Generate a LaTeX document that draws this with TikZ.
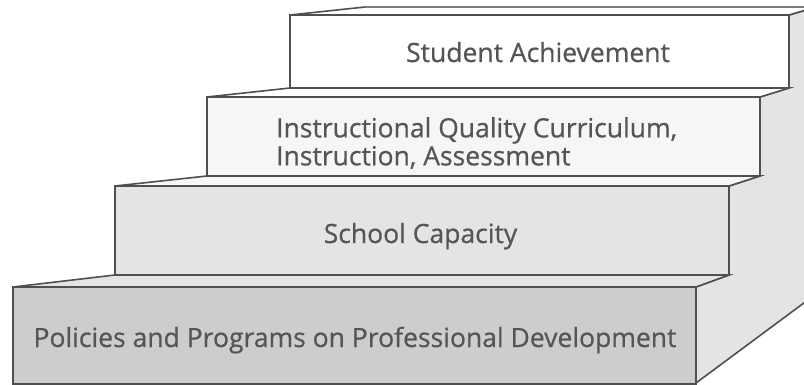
\documentclass[tikz,border=0pt]{standalone}
\usepackage{fontspec}
\setmainfont{Open Sans}
\newfontfamily\lblfont[FakeBold=0.6]{Open Sans}
\definecolor{edge}{HTML}{4F4F4F}
\definecolor{txt}{HTML}{555555}
\definecolor{side}{HTML}{E4E4E4}
\definecolor{s1}{HTML}{CDCDCD}
\definecolor{s2}{HTML}{E4E4E4}
\definecolor{s3}{HTML}{F6F6F6}
\definecolor{s4}{HTML}{FFFFFF}
\tikzset{
  face/.style={draw=edge, line width=1.6pt, line join=miter},
  lbl/.style={text=txt, font=\lblfont\fontsize{26.5}{28}\selectfont, inner sep=0pt},
}
\begin{document}
\begin{tikzpicture}[x=1pt,y=-1pt]
\useasboundingbox (0,0) rectangle (804,385);
\fill[white] (0,0) rectangle (804,385);
\clip (0,0) rectangle (804,385);
% side face
\path[face, fill=side] (696,383) -- (696,287) -- (729,275) -- (729,186) -- (760,176) -- (760,97) -- (789,88) -- (789,15) -- (816,7) -- (816,294) -- cycle;
% top faces
\path[face, fill=s2] (13,287) -- (115,275) -- (729,275) -- (696,287) -- cycle;
\path[face, fill=s3] (115,186) -- (207,176) -- (760,176) -- (729,186) -- cycle;
\path[face, fill=s4] (207,97) -- (290,88) -- (789,88) -- (760,97) -- cycle;
\path[face, fill=s4, draw=none] (290,15) -- (365,7) -- (816,7) -- (789,15) -- cycle;
\draw[edge, line width=1.6pt] (290,15) -- (365,7);
\draw[edge!75, line width=1.4pt] (365,7) -- (816,7);
\draw[edge, line width=1.6pt] (789,15) -- (816,7);
% fronts
\path[face, fill=s1] (13,287) rectangle (696,384);
\path[face, fill=s2] (115,186) rectangle (729,275);
\path[face, fill=s3] (207,97) rectangle (760,176);
\path[face, fill=s4] (290,15) rectangle (789,88);
% labels
\node[lbl, anchor=base] (t1) at (355,347) {Policies and Programs on Professional Development};
\node[lbl, anchor=base] (t2) at (420.5,243) {School Capacity};
\node[lbl, anchor=west, align=left] (t3) at (276,143) {Instructional Quality Curriculum,\\Instruction, Assessment};
\node[lbl, anchor=base] (t4) at (538,62) {Student Achievement};
\end{tikzpicture}
\end{document}
